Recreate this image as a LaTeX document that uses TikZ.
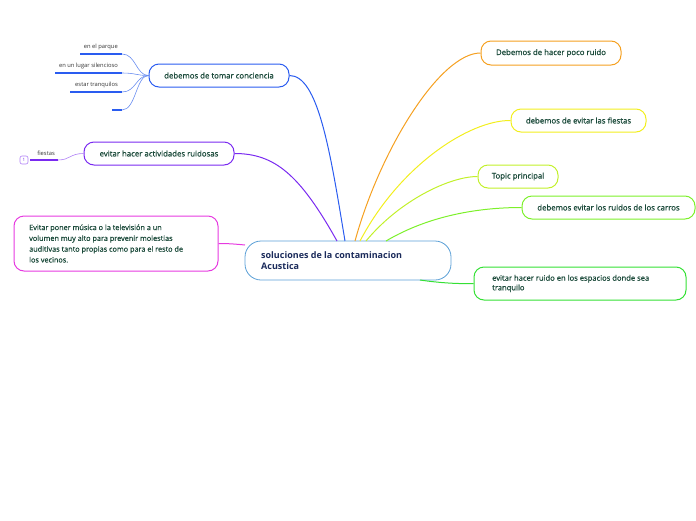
\documentclass[tikz,border=0pt]{standalone}
\usepackage{fontspec}
\setmainfont{Open Sans}
\newfontfamily\mfont[FakeBold=0.9]{Open Sans}
\definecolor{txt}{HTML}{1B4A3A}
\definecolor{ctxt}{HTML}{1A2A5A}
\definecolor{cblue}{HTML}{5A9FD6}
\definecolor{corange}{HTML}{F5A020}
\definecolor{cyellow}{HTML}{F2EE1E}
\definecolor{cyg}{HTML}{C2F02A}
\definecolor{cgreen}{HTML}{7CF02A}
\definecolor{cgreen2}{HTML}{34E034}
\definecolor{cdblue}{HTML}{2A5CF0}
\definecolor{cpurple}{HTML}{7A2AF0}
\definecolor{cmag}{HTML}{E63AE0}
\definecolor{csub}{HTML}{6A8EF0}
\tikzset{
  topic/.style={draw=#1, line width=1pt, rounded corners=10pt, font=\mfont\fontsize{7.8}{9.8}\selectfont, text=txt, inner sep=0pt, align=left},
  conn/.style={draw=#1, line width=1pt},
  subline/.style={draw=cdblue, line width=1.2pt},
  sublabel/.style={font=\fontsize{5.8}{6.5}\selectfont, text=black!80, inner sep=0pt, anchor=south east}
}
\begin{document}
\begin{tikzpicture}[x=1pt,y=-1pt]
\useasboundingbox (0,0) rectangle (696,520);
% central
\node[draw=cblue, line width=0.8pt, rounded corners=16pt, minimum width=206pt, minimum height=39pt, inner sep=0pt] (c) at (348,260.5) {};
\node[anchor=west, font=\fontsize{9}{11}\selectfont\bfseries, text=ctxt, align=left, inner sep=0pt] (ct) at (261,260.5) {soluciones de la contaminacion\\Acustica};
% right topics
\node[topic=corange, minimum width=140pt, minimum height=24pt] (t1) at (551,53) {Debemos de hacer poco ruido};
\node[topic=cyellow, minimum width=135pt, minimum height=23pt] (t2) at (578.5,120.5) {debemos de evitar las fiestas};
\node[topic=cyg, minimum width=80pt, minimum height=23pt] (t3) at (518,176.5) {Topic principal};
\node[topic=cgreen, minimum width=173pt, minimum height=23pt] (t4) at (608.5,207.5) {debemos evitar los ruidos de los carros};
\node[topic=cgreen2, minimum width=212pt, minimum height=33pt] (t5) at (580,283.5) {};
\node[anchor=west, font=\mfont\fontsize{7.6}{9.6}\selectfont, text=txt, align=left, inner sep=0pt] (t5t) at (492,283.5) {evitar hacer ruido en los espacios donde sea\\tranquilo};
% left topics
\node[topic=cdblue, minimum width=140pt, minimum height=23pt] (l1) at (219,75.5) {debemos de tomar conciencia};
\node[topic=cpurple, minimum width=150pt, minimum height=23pt] (l2) at (159,153.5) {evitar hacer actividades ruidosas};
\node[topic=cmag, minimum width=204pt, minimum height=55pt] (l3) at (116,243.5) {};
\node[anchor=west, font=\mfont\fontsize{7.3}{10.8}\selectfont, text=txt, align=left, inner sep=0pt] (l3t) at (29,243.5) {Evitar poner música o la televisión a un\\volumen muy alto para prevenir molestias\\auditivas tanto propias como para el resto de\\los vecinos.};
% connectors from centre
\coordinate (cp) at (337,241);
\coordinate (cb) at (345,241);
\coordinate (co) at (355,241);
\coordinate (cy) at (360,241);
\coordinate (cyg) at (366,241);
\coordinate (cg) at (386,241);
\coordinate (cg2) at (420,280);
\coordinate (cm) at (245,245);
\draw[conn=corange] (co) .. controls (380,150) and (440,53) .. (t1.west);
\draw[conn=cyellow] (cy) .. controls (400,165) and (470,120) .. (t2.west);
\draw[conn=cyg] (cyg) .. controls (400,200) and (450,176.5) .. (t3.west);
\draw[conn=cgreen] (cg) .. controls (430,215) and (480,207.5) .. (t4.west);
\draw[conn=cgreen2] (cg2) .. controls (440,283) and (460,284) .. (t5.west);
\draw[conn=cdblue] (cb) .. controls (330,150) and (318,75.5) .. (l1.east);
\draw[conn=cpurple] (cp) .. controls (300,175) and (275,153.5) .. (l2.east);
\draw[conn=cmag] (cm) .. controls (235,244) and (228,243.5) .. (l3.east);
% subtopics of l1
\coordinate (s1r) at (122,54); \coordinate (s1l) at (80,54);
\coordinate (s2r) at (122,73); \coordinate (s2l) at (55,73);
\coordinate (s3r) at (122,92); \coordinate (s3l) at (70,92);
\coordinate (s4r) at (122,110); \coordinate (s4l) at (112,110);
\draw[subline] (s1l) -- (s1r);
\draw[subline] (s2l) -- (s2r);
\draw[subline] (s3l) -- (s3r);
\draw[subline] (s4l) -- (s4r);
\node[sublabel] (s1) at (118,50) {en el parque};
\node[sublabel] (s2) at (118,69) {en un lugar silencioso};
\node[sublabel] (s3) at (118,88) {estar tranquilos};
\foreach \y/\n in {54/s1r,73/s2r,92/s3r,110/s4r}
  \draw[draw=csub, line width=0.6pt] (l1.west) .. controls (136,75.5) and (136,\y) .. (\n);
% subtopic of l2
\coordinate (f1r) at (58,160); \coordinate (f1l) at (30,160);
\draw[draw=cpurple, line width=1.2pt] (f1l) -- (f1r);
\draw[draw=cpurple!60, line width=0.6pt] (l2.west) .. controls (70,153.5) and (70,160) .. (f1r);
\node[sublabel] (f1) at (55,156) {fiestas};
\node[draw=cpurple!60, line width=0.6pt, rounded corners=2pt, minimum width=8pt, minimum height=8pt, inner sep=0pt, font=\fontsize{4.5}{5}\selectfont, text=cpurple] (fi) at (24,160) {1};
\end{tikzpicture}
\end{document}
